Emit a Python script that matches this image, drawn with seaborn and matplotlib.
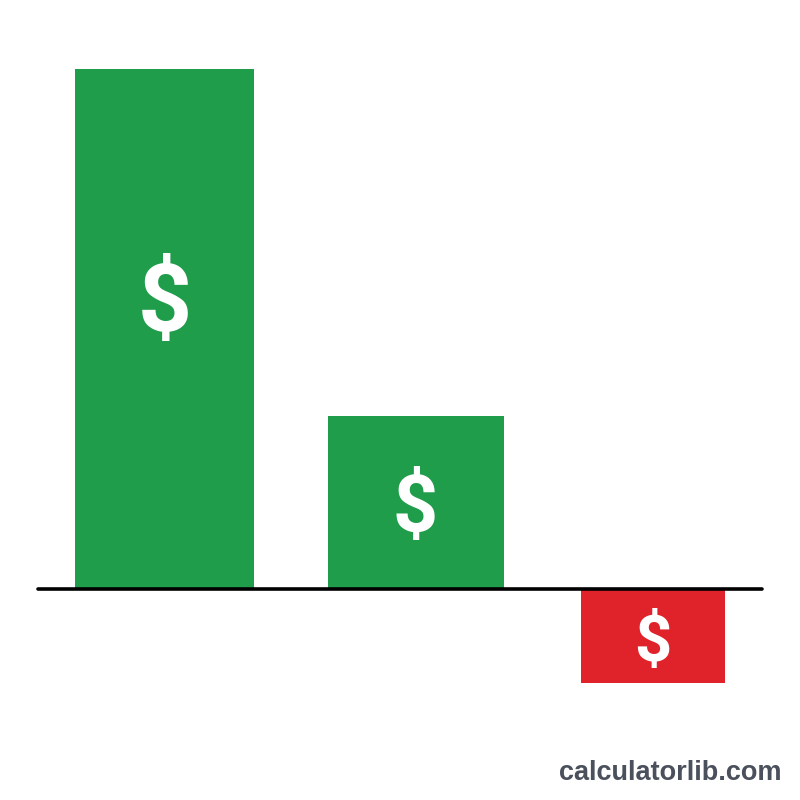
import matplotlib
matplotlib.use("Agg")
import matplotlib.pyplot as plt
import seaborn as sns
import pandas as pd

# Data
categories = ["A", "B", "C"]
values = [100.0, 33.3, -18.1]
bar_colors = ["#1f9d4b", "#1f9d4b", "#e0232b"]
label_text = ["$", "$", "$"]
watermark = "calculatorlib.com"

sns.set_theme(style="white")
plt.rcParams['font.family'] = ['Liberation Sans', 'DejaVu Sans']

df = pd.DataFrame({"cat": categories, "val": values})

fig = plt.figure(figsize=(8, 8), dpi=100)
ax = fig.add_axes([0, 0, 1, 1])
sns.barplot(data=df, x="cat", y="val", hue="cat", palette=bar_colors,
            legend=False, ax=ax, saturation=1, width=0.7)

# pixel layout helpers (pixels measured from top-left of 800x800 canvas)
PX_PER_X = 244.25
X0 = 164.5
PX_PER_Y = 5.2
Y0 = 589.0

def px_x(p):
    return (p - X0) / PX_PER_X

def px_y(p):
    return (Y0 - p) / PX_PER_Y

ax.set_xlim(px_x(0), px_x(800))
ax.set_ylim(px_y(800), px_y(0))

# per-bar horizontal extents (layout)
bar_edges = [(75, 254), (328, 504), (581, 725)]
for patch, (l, r) in zip(ax.patches, bar_edges):
    patch.set_x(px_x(l))
    patch.set_width(px_x(r) - px_x(l))
    patch.set_linewidth(0)

# baseline
ax.axhline(0, xmin=38 / 800, xmax=762 / 800, color="black", lw=2.6, zorder=5)

# dollar labels
label_pos = [(165, 305), (415, 511), (653, 643)]
label_size = [68, 57, 47]
for t, (lx, ly), s in zip(label_text, label_pos, label_size):
    ax.text(px_x(lx), px_y(ly), t, color="white", fontsize=s,
            fontweight="bold", family=["Roboto", "DejaVu Sans"],
            ha="center", va="center", zorder=6)

ax.set_axis_off()
ax.set_xlabel("")
ax.set_ylabel("")

fig.text(782 / 800, 1 - 773 / 800, watermark, color="#4a505c", fontsize=19.5,
         fontweight="bold", ha="right", va="center")

fig.savefig("out.png", dpi=100, facecolor="white")
